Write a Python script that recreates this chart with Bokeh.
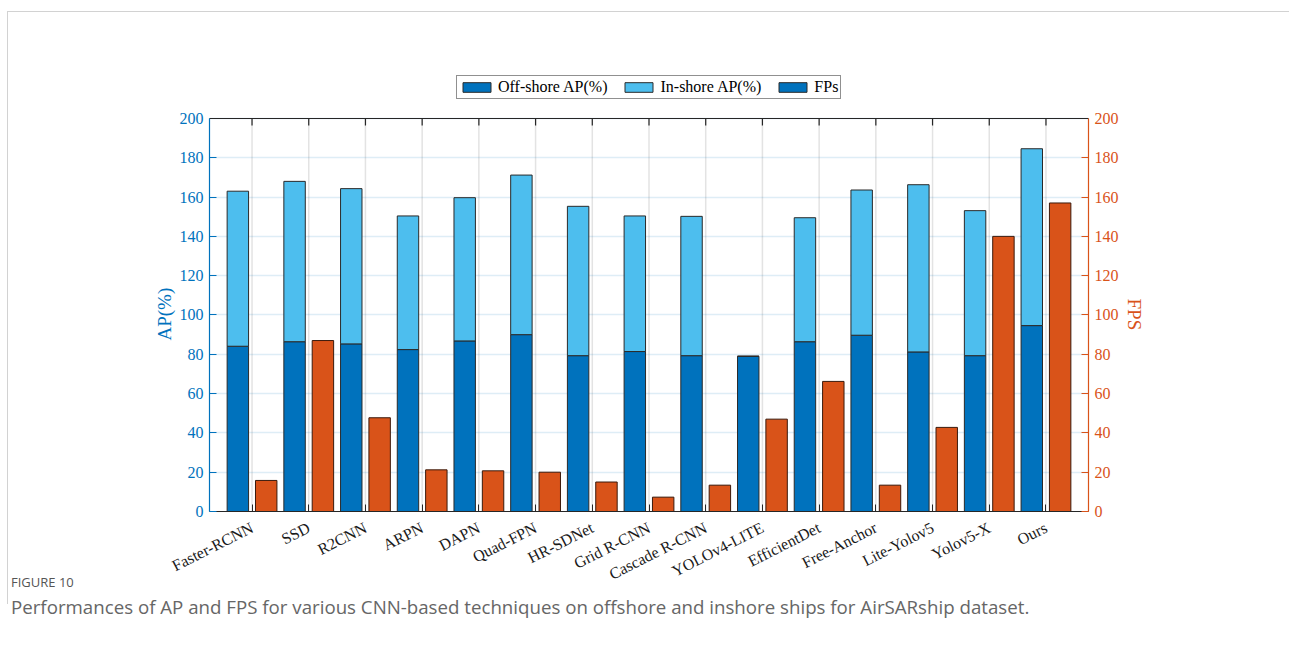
from bokeh.plotting import figure
from bokeh.layouts import column
from bokeh.models import (Range1d, LinearAxis, FixedTicker, Legend, LegendItem,
                          Title, Span, Div, ColumnDataSource)
from bokeh.transform import dodge
from bokeh.embed import file_html
from bokeh.resources import INLINE

methods = ["Faster-RCNN", "SSD", "R2CNN", "ARPN", "DAPN", "Quad-FPN", "HR-SDNet",
           "Grid R-CNN", "Cascade R-CNN", "YOLOv4-LITE", "EfficientDet",
           "Free-Anchor", "Lite-Yolov5", "Yolov5-X", "Ours"]
position = list(range(1, 16))
offshore_ap = [84.1, 86.4, 85.3, 82.4, 86.8, 90.0, 79.3, 81.4, 79.3, 79.0, 86.4,
               89.7, 81.2, 79.3, 94.6]
inshore_ap = [78.9, 81.6, 79.0, 68.0, 72.9, 81.2, 76.0, 69.0, 70.9, 0.0, 63.1,
              73.9, 85.1, 73.8, 90.0]
fps = [15.8, 87.0, 47.7, 21.2, 20.7, 20.0, 15.0, 7.3, 13.4, 47.0, 66.2, 13.4,
       42.8, 140.0, 157.0]
y_ticks = [0, 20, 40, 60, 80, 100, 120, 140, 160, 180, 200]

BLUE = "#0072BD"
LIGHT = "#4DBEEE"
ORANGE = "#D95319"
SERIF = "Liberation Serif"

Y_MAX = 200            # top of both value axes
Y_VIEW = 223.4         # plot area keeps headroom above the axes for the legend
FRAME_H = 439          # px; 393 px for 0..200
TICK = 7 / (FRAME_H / Y_VIEW)   # 7 px tick length in data units

src = ColumnDataSource(dict(pos=position, off=offshore_ap, ins=inshore_ap, fps=fps,
                            y0=[0] * 15, ytop=[Y_MAX] * 15,
                            ytick=[Y_MAX - TICK] * 15))

p = figure(width=1282, height=593, x_range=Range1d(0.25, 15.75),
           y_range=Range1d(0, Y_VIEW),
           output_backend="svg", toolbar_location=None,
           min_border_left=201, min_border_right=202, min_border_top=60,
           min_border_bottom=94, y_axis_location=None)
p.styles = {"margin-left": "7px", "margin-top": "11px",
            "border-top": "1px solid #d2d2d2", "border-left": "1px solid #d2d2d2"}
p.outline_line_color = None
p.extra_y_ranges = {"fps": Range1d(0, Y_VIEW)}

# grid: horizontal lines from the ticker, vertical lines only up to the box top
p.xgrid.visible = False
p.ygrid.ticker = FixedTicker(ticks=y_ticks)
p.ygrid.grid_line_color = BLUE
p.ygrid.grid_line_alpha = 0.13
p.ygrid.grid_line_width = 1.5
p.ygrid.level = "underlay"
p.segment(x0="pos", x1="pos", y0="y0", y1="ytop", source=src,
          line_color="#262626", line_alpha=0.13, line_width=1.5, level="underlay")

# stacked AP bars (left axis) and FPS bars (right axis)
bw = 0.378
r_ap = p.vbar_stack(["off", "ins"], x=dodge("pos", -0.25), width=bw, source=src,
                    fill_color=[BLUE, LIGHT], line_color="#2a2a2a", line_width=1)
p.vbar(x=dodge("pos", 0.25), top="fps", bottom=0, width=bw, source=src,
       fill_color=ORANGE, line_color="#3a1a0c", line_width=1, y_range_name="fps")

# box top edge with inward ticks
p.add_layout(Span(location=Y_MAX, dimension="width", line_color="#262626",
                  line_width=1.2))
p.segment(x0="pos", x1="pos", y0="ytop", y1="ytick", source=src,
          line_color="#262626", line_width=1.2)


def style_y(ax, color):
    ax.ticker = FixedTicker(ticks=y_ticks)
    ax.bounds = (0, Y_MAX)
    ax.axis_line_color = color
    ax.axis_line_width = 1.2
    ax.major_tick_line_color = color
    ax.major_tick_line_width = 1.2
    ax.major_tick_in = 7
    ax.major_tick_out = 0
    ax.minor_tick_line_color = None
    ax.major_label_text_font = SERIF
    ax.major_label_text_font_size = "16px"
    ax.major_label_text_color = color
    ax.major_label_standoff = 6


left = LinearAxis()
style_y(left, BLUE)
p.add_layout(left, "left")
right = LinearAxis(y_range_name="fps")
style_y(right, ORANGE)
p.add_layout(right, "right")

# axis titles, centred on the 0..200 span rather than the whole plot area
p.add_layout(Title(text="AP(%)", align="left", offset=171, standoff=4,
                   text_font=SERIF, text_font_size="19px", text_font_style="normal",
                   text_color=BLUE), "left")
p.add_layout(Title(text="FPS", align="left", offset=226, standoff=4,
                   text_font=SERIF, text_font_size="19px", text_font_style="normal",
                   text_color=ORANGE), "right")

# category axis
xa = p.xaxis[0]
xa.ticker = FixedTicker(ticks=position)
xa.major_label_overrides = {i: m for i, m in zip(position, methods)}
xa.major_label_orientation = 0.47
xa.major_label_text_font = SERIF
xa.major_label_text_font_size = "16px"
xa.major_label_text_color = "#1a1a1a"
xa.major_label_standoff = 15
xa.axis_line_color = "#262626"
xa.axis_line_width = 1.2
xa.major_tick_line_color = "#262626"
xa.major_tick_in = 7
xa.major_tick_out = 0
xa.minor_tick_line_color = None

legend = Legend(items=[LegendItem(label="Off-shore AP(%)", renderers=[r_ap[0]]),
                       LegendItem(label="In-shore AP(%)", renderers=[r_ap[1]]),
                       LegendItem(label="FPs", renderers=[r_ap[0]])],
                orientation="horizontal", location=(247, 412))
legend.label_text_font = SERIF
legend.label_text_font_size = "16px"
legend.label_text_color = "#000000"
legend.glyph_width = 35
legend.glyph_height = 12
legend.label_standoff = 4
legend.spacing = 14
legend.padding = 2
legend.margin = 0
legend.label_height = 14
legend.border_line_color = "#222222"
legend.border_line_width = 1
legend.background_fill_color = "white"
p.add_layout(legend)

# caption block, lifted up beside the slanted category labels
caption = Div(
    text=("<div style=\"font-family:'Open Sans';font-size:13px;line-height:16px;"
          "color:#555555;white-space:nowrap;\">FIGURE 10</div>"
          "<div style=\"font-family:'Open Sans';font-size:18.7px;line-height:22px;"
          "color:#666666;margin-top:6px;white-space:nowrap;\">"
          "Performances of AP and FPS for various CNN-based techniques on offshore "
          "and inshore ships for AirSARship dataset.</div>"),
    width=1200, height=60, margin=0,
    styles={"transform": "translate(11px, -30px)"})

layout = column(p, caption)
open("out.html", "w").write(file_html(layout, INLINE))
